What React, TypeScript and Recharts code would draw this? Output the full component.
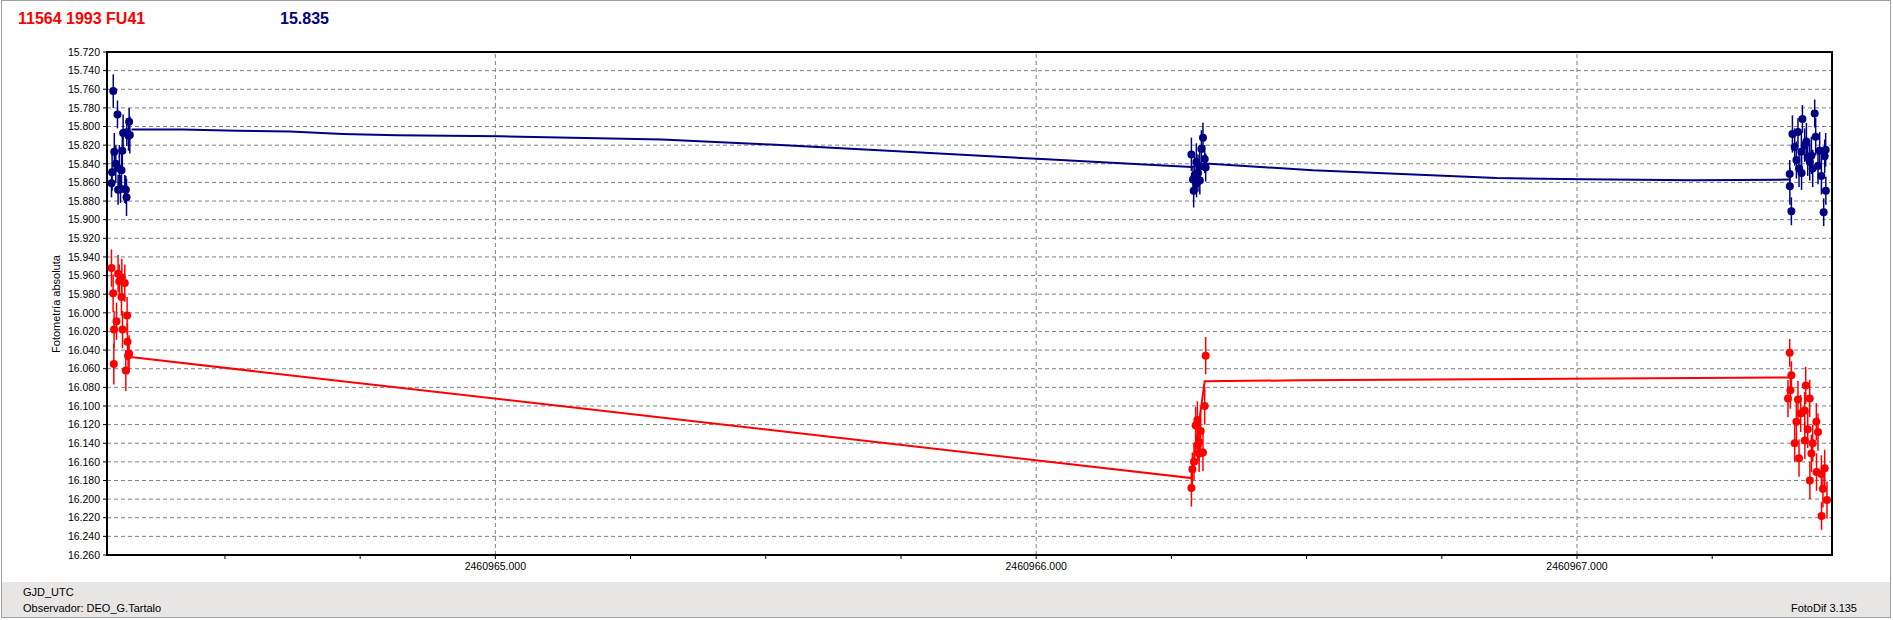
import { ScatterChart, Scatter, XAxis, YAxis, CartesianGrid, ErrorBar, ReferenceLine, ReferenceArea } from 'recharts';

// photometry of 11564 1993 FU41 (red) and comparison (blue), mag vs GJD
const BLUE = '#000080';
const RED = '#ff0000';
const FONT = '"Liberation Sans", Arial, sans-serif';

const X_DOMAIN: [number, number] = [2460964.2819, 2460967.4715];
const Y_DOMAIN: [number, number] = [15.72, 16.26];

const yTicks = [
  15.72, 15.74, 15.76, 15.78, 15.8, 15.82, 15.84, 15.86, 15.88, 15.9, 15.92, 15.94, 15.96, 15.98,
  16.0, 16.02, 16.04, 16.06, 16.08, 16.1, 16.12, 16.14, 16.16, 16.18, 16.2, 16.22, 16.24, 16.26,
];
const xTicks = [
  2460964.5, 2460964.75, 2460965, 2460965.25, 2460965.5, 2460965.75, 2460966, 2460966.25,
  2460966.5, 2460966.75, 2460967, 2460967.25,
];
const xMajor = [2460965, 2460966, 2460967];

// comparison star (blue)
const blueNight1 = [
  { jd: 2460964.2902, mag: 15.861, err: 0.015 },
  { jd: 2460964.2913, mag: 15.849, err: 0.02 },
  { jd: 2460964.2935, mag: 15.762, err: 0.018 },
  { jd: 2460964.2954, mag: 15.827, err: 0.02 },
  { jd: 2460964.2982, mag: 15.84, err: 0.02 },
  { jd: 2460964.3013, mag: 15.787, err: 0.015 },
  { jd: 2460964.3024, mag: 15.868, err: 0.016 },
  { jd: 2460964.3046, mag: 15.845, err: 0.025 },
  { jd: 2460964.3069, mag: 15.867, err: 0.015 },
  { jd: 2460964.3087, mag: 15.847, err: 0.02 },
  { jd: 2460964.3102, mag: 15.826, err: 0.02 },
  { jd: 2460964.3117, mag: 15.807, err: 0.02 },
  { jd: 2460964.3148, mag: 15.867, err: 0.015 },
  { jd: 2460964.3167, mag: 15.868, err: 0.015 },
  { jd: 2460964.318, mag: 15.876, err: 0.02 },
  { jd: 2460964.3185, mag: 15.806, err: 0.015 },
  { jd: 2460964.3217, mag: 15.81, err: 0.016 },
  { jd: 2460964.3228, mag: 15.795, err: 0.015 },
  { jd: 2460964.3241, mag: 15.809, err: 0.02 },
];
const blueNight2 = [
  { jd: 2460966.287, mag: 15.83, err: 0.018 },
  { jd: 2460966.2899, mag: 15.857, err: 0.015 },
  { jd: 2460966.2912, mag: 15.869, err: 0.018 },
  { jd: 2460966.2931, mag: 15.852, err: 0.02 },
  { jd: 2460966.2962, mag: 15.838, err: 0.02 },
  { jd: 2460966.2965, mag: 15.861, err: 0.015 },
  { jd: 2460966.2992, mag: 15.85, err: 0.02 },
  { jd: 2460966.3023, mag: 15.843, err: 0.018 },
  { jd: 2460966.3026, mag: 15.858, err: 0.015 },
  { jd: 2460966.3055, mag: 15.824, err: 0.02 },
  { jd: 2460966.3084, mag: 15.812, err: 0.016 },
  { jd: 2460966.3116, mag: 15.835, err: 0.015 },
  { jd: 2460966.3134, mag: 15.844, err: 0.015 },
];
const blueNight3 = [
  { jd: 2460967.3933, mag: 15.851, err: 0.015 },
  { jd: 2460967.3936, mag: 15.864, err: 0.02 },
  { jd: 2460967.3964, mag: 15.891, err: 0.015 },
  { jd: 2460967.3983, mag: 15.808, err: 0.02 },
  { jd: 2460967.4025, mag: 15.822, err: 0.02 },
  { jd: 2460967.4057, mag: 15.836, err: 0.02 },
  { jd: 2460967.4086, mag: 15.806, err: 0.015 },
  { jd: 2460967.4105, mag: 15.845, err: 0.02 },
  { jd: 2460967.4149, mag: 15.827, err: 0.02 },
  { jd: 2460967.4152, mag: 15.85, err: 0.018 },
  { jd: 2460967.4168, mag: 15.792, err: 0.015 },
  { jd: 2460967.421, mag: 15.82, err: 0.018 },
  { jd: 2460967.4242, mag: 15.816, err: 0.02 },
  { jd: 2460967.4266, mag: 15.833, err: 0.02 },
  { jd: 2460967.4303, mag: 15.838, err: 0.02 },
  { jd: 2460967.4334, mag: 15.831, err: 0.02 },
  { jd: 2460967.4358, mag: 15.845, err: 0.02 },
  { jd: 2460967.4395, mag: 15.786, err: 0.015 },
  { jd: 2460967.4413, mag: 15.811, err: 0.02 },
  { jd: 2460967.4456, mag: 15.842, err: 0.02 },
  { jd: 2460967.4487, mag: 15.826, err: 0.02 },
  { jd: 2460967.4519, mag: 15.853, err: 0.02 },
  { jd: 2460967.4561, mag: 15.892, err: 0.015 },
  { jd: 2460967.458, mag: 15.832, err: 0.018 },
  { jd: 2460967.4598, mag: 15.825, err: 0.018 },
  { jd: 2460967.4601, mag: 15.869, err: 0.015 },
];

// asteroid (red)
const redNight1 = [
  { jd: 2460964.2902, mag: 15.952, err: 0.02 },
  { jd: 2460964.2932, mag: 15.979, err: 0.02 },
  { jd: 2460964.2945, mag: 16.055, err: 0.022 },
  { jd: 2460964.295, mag: 16.018, err: 0.02 },
  { jd: 2460964.2995, mag: 16.009, err: 0.02 },
  { jd: 2460964.3024, mag: 15.958, err: 0.02 },
  { jd: 2460964.3046, mag: 15.966, err: 0.018 },
  { jd: 2460964.3087, mag: 15.983, err: 0.02 },
  { jd: 2460964.3093, mag: 15.962, err: 0.02 },
  { jd: 2460964.3106, mag: 16.018, err: 0.02 },
  { jd: 2460964.3148, mag: 15.968, err: 0.02 },
  { jd: 2460964.3167, mag: 16.062, err: 0.022 },
  { jd: 2460964.3191, mag: 16.003, err: 0.02 },
  { jd: 2460964.3198, mag: 16.031, err: 0.02 },
  { jd: 2460964.3209, mag: 16.046, err: 0.02 },
  { jd: 2460964.3228, mag: 16.044, err: 0.02 },
];
const redNight2 = [
  { jd: 2460966.287, mag: 16.188, err: 0.02 },
  { jd: 2460966.2888, mag: 16.168, err: 0.018 },
  { jd: 2460966.2918, mag: 16.16, err: 0.02 },
  { jd: 2460966.2949, mag: 16.121, err: 0.02 },
  { jd: 2460966.2981, mag: 16.115, err: 0.02 },
  { jd: 2460966.2984, mag: 16.142, err: 0.02 },
  { jd: 2460966.301, mag: 16.139, err: 0.02 },
  { jd: 2460966.3013, mag: 16.151, err: 0.02 },
  { jd: 2460966.3042, mag: 16.127, err: 0.02 },
  { jd: 2460966.3084, mag: 16.15, err: 0.02 },
  { jd: 2460966.3116, mag: 16.1, err: 0.02 },
  { jd: 2460966.3134, mag: 16.046, err: 0.02 },
];
const redNight3 = [
  { jd: 2460967.3901, mag: 16.092, err: 0.02 },
  { jd: 2460967.3933, mag: 16.043, err: 0.015 },
  { jd: 2460967.3946, mag: 16.083, err: 0.02 },
  { jd: 2460967.3964, mag: 16.067, err: 0.015 },
  { jd: 2460967.4025, mag: 16.14, err: 0.02 },
  { jd: 2460967.4057, mag: 16.117, err: 0.02 },
  { jd: 2460967.4086, mag: 16.093, err: 0.02 },
  { jd: 2460967.4105, mag: 16.156, err: 0.02 },
  { jd: 2460967.4136, mag: 16.108, err: 0.02 },
  { jd: 2460967.421, mag: 16.105, err: 0.02 },
  { jd: 2460967.4213, mag: 16.137, err: 0.02 },
  { jd: 2460967.4229, mag: 16.078, err: 0.02 },
  { jd: 2460967.4266, mag: 16.125, err: 0.02 },
  { jd: 2460967.4303, mag: 16.092, err: 0.02 },
  { jd: 2460967.4306, mag: 16.18, err: 0.02 },
  { jd: 2460967.4334, mag: 16.151, err: 0.02 },
  { jd: 2460967.4358, mag: 16.14, err: 0.02 },
  { jd: 2460967.4426, mag: 16.117, err: 0.02 },
  { jd: 2460967.4429, mag: 16.171, err: 0.02 },
  { jd: 2460967.4456, mag: 16.128, err: 0.02 },
  { jd: 2460967.4519, mag: 16.173, err: 0.02 },
  { jd: 2460967.4522, mag: 16.218, err: 0.015 },
  { jd: 2460967.4548, mag: 16.189, err: 0.02 },
  { jd: 2460967.458, mag: 16.167, err: 0.02 },
  { jd: 2460967.4622, mag: 16.201, err: 0.02 },
];

// trend lines joining the nights
const blueLine = [
  { jd: 2460964.3272, mag: 15.8033 },
  { jd: 2460964.422, mag: 15.8033 },
  { jd: 2460964.5219, mag: 15.8046 },
  { jd: 2460964.6199, mag: 15.8054 },
  { jd: 2460964.7179, mag: 15.808 },
  { jd: 2460964.8177, mag: 15.8094 },
  { jd: 2460965.0081, mag: 15.8105 },
  { jd: 2460965.3077, mag: 15.814 },
  { jd: 2460965.5092, mag: 15.8194 },
  { jd: 2460965.7089, mag: 15.8255 },
  { jd: 2460966.0103, mag: 15.835 },
  { jd: 2460966.287, mag: 15.8434 },
  { jd: 2460966.3134, mag: 15.8396 },
  { jd: 2460966.5113, mag: 15.847 },
  { jd: 2460966.8515, mag: 15.8553 },
  { jd: 2460967.0127, mag: 15.8567 },
  { jd: 2460967.2139, mag: 15.8577 },
  { jd: 2460967.3933, mag: 15.857 },
];
const redLine = [
  { jd: 2460964.3253, mag: 16.0475 },
  { jd: 2460966.287, mag: 16.1774 },
  { jd: 2460966.3116, mag: 16.0735 },
  { jd: 2460966.4873, mag: 16.0725 },
  { jd: 2460967.3933, mag: 16.0695 },
];

const dot = (color: string) => (p: any) =>
  p.cx == null ? <g /> : <circle cx={p.cx} cy={p.cy} r={4} fill={color} />;

const noDot = () => <g />;

export default function App() {
  const nights: [typeof blueNight1, string][] = [
    [blueNight1, BLUE],
    [blueNight2, BLUE],
    [blueNight3, BLUE],
    [redNight1, RED],
    [redNight2, RED],
    [redNight3, RED],
  ];

  return (
    <div style={{ position: 'relative', width: 1893, height: 620, background: '#fff', fontFamily: FONT }}>
      <style>{'body{margin:0}'}</style>
      <div
        style={{
          position: 'absolute',
          left: 1,
          top: 0,
          width: 1890,
          height: 618,
          border: '1px solid #a0a0a0',
          boxSizing: 'border-box',
        }}
      />
      <div
        style={{ position: 'absolute', left: 2, top: 582, width: 1888, height: 35, background: '#e7e6e4' }}
      />

      <ScatterChart
        width={1893}
        height={620}
        margin={{ top: 52, right: 61, left: 0, bottom: 0 }}
        style={{ position: 'absolute', left: 0, top: 0 }}
      >
        <CartesianGrid vertical={false} stroke="#808080" strokeDasharray="4 3" />
        {xMajor.map((v) => (
          <ReferenceLine key={v} x={v} stroke="#808080" strokeDasharray="4 3" />
        ))}
        <XAxis
          type="number"
          dataKey="jd"
          domain={X_DOMAIN}
          allowDataOverflow
          ticks={xTicks}
          interval={0}
          tickFormatter={(v: number) => (xMajor.includes(v) ? v.toFixed(3) : '')}
          height={65}
          tickSize={4}
          tickMargin={4}
          axisLine={{ stroke: '#000', strokeWidth: 2 }}
          tickLine={{ stroke: '#000' }}
          tick={{ fill: '#000', fontSize: 10.5, fontFamily: FONT }}
        />
        <YAxis
          type="number"
          dataKey="mag"
          domain={Y_DOMAIN}
          reversed
          allowDataOverflow
          ticks={yTicks}
          interval={0}
          tickFormatter={(v: number) => v.toFixed(3)}
          width={107}
          tickSize={4}
          tickMargin={3}
          axisLine={{ stroke: '#000', strokeWidth: 2 }}
          tickLine={{ stroke: '#000' }}
          tick={{ fill: '#000', fontSize: 10.5, fontFamily: FONT }}
        />
        <ReferenceArea
          x1={X_DOMAIN[0]}
          x2={X_DOMAIN[1]}
          y1={Y_DOMAIN[0]}
          y2={Y_DOMAIN[1]}
          fill="none"
          fillOpacity={0}
          stroke="#000"
          strokeWidth={2}
          ifOverflow="visible"
        />
        <Scatter data={blueLine} line={{ stroke: BLUE, strokeWidth: 2 }} shape={noDot} isAnimationActive={false} />
        <Scatter data={redLine} line={{ stroke: RED, strokeWidth: 2 }} shape={noDot} isAnimationActive={false} />
        {nights.map(([data, color], i) => (
          <Scatter key={i} data={data} shape={dot(color)} isAnimationActive={false}>
            <ErrorBar dataKey="err" direction="y" width={0} stroke={color} strokeWidth={1.5} />
          </Scatter>
        ))}
      </ScatterChart>

      <div style={{ position: 'absolute', left: 18, top: 11, fontSize: 16, lineHeight: '16px', fontWeight: 700, color: RED }}>
        11564 1993 FU41
      </div>
      <div style={{ position: 'absolute', left: 280, top: 11, fontSize: 16, lineHeight: '16px', fontWeight: 700, color: BLUE }}>
        15.835
      </div>
      <div
        style={{
          position: 'absolute',
          left: 56,
          top: 304,
          transform: 'translate(-50%, -50%) rotate(-90deg)',
          fontSize: 11,
          lineHeight: '11px',
          whiteSpace: 'nowrap',
          color: '#000',
        }}
      >
        Fotometría absoluta
      </div>
      <div style={{ position: 'absolute', left: 23, top: 587, fontSize: 11, lineHeight: '11px', color: '#000' }}>
        GJD_UTC
      </div>
      <div style={{ position: 'absolute', left: 23, top: 603, fontSize: 11, lineHeight: '11px', color: '#000' }}>
        Observador: DEO_G.Tartalo
      </div>
      <div style={{ position: 'absolute', right: 36, top: 603, fontSize: 11, lineHeight: '11px', color: '#000' }}>
        FotoDif 3.135
      </div>
    </div>
  );
}
